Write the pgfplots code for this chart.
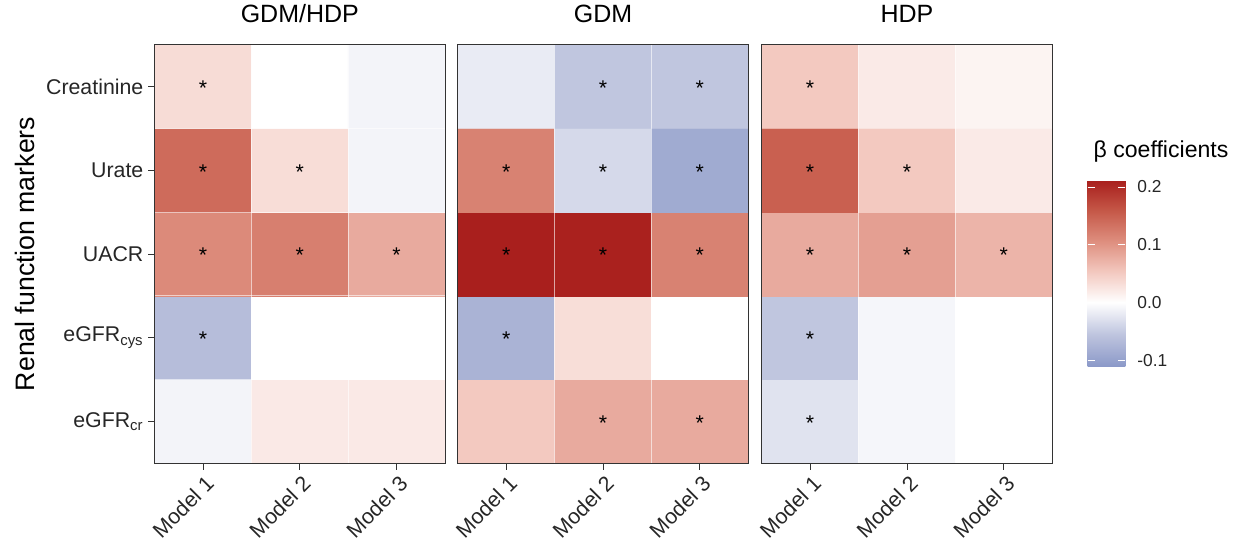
\documentclass[border=0pt]{standalone}
\usepackage{pgfplots}
\pgfplotsset{compat=1.18}
\usepackage{pgfplotstable}
\usepackage{fontspec}
\setmainfont{Liberation Sans}

\pgfplotsset{colormap={beta}{rgb255(0pt)=(138,152,200); rgb255(56pt)=(190,196,222); rgb255(112pt)=(255,255,255); rgb255(165pt)=(243,200,191); rgb255(218pt)=(222,142,126); rgb255(271pt)=(197,88,72); rgb255(324pt)=(168,30,28)}}

% y: 0=eGFRcr, 1=eGFRcys, 2=UACR, 3=Urate, 4=Creatinine ; x: 0..2 = Model 1..3
\pgfplotstableread{
x y v
0 0 -0.010
1 0 0.021
2 0 0.021
0 1 -0.065
1 1 0.000
2 1 0.000
0 2 0.110
1 2 0.121
2 2 0.080
0 3 0.140
1 3 0.033
2 3 -0.010
0 4 0.034
1 4 0.000
2 4 -0.010
}\gdmhdp
\pgfplotstableread{
x y v
0 0 0.052
1 0 0.080
2 0 0.080
0 1 -0.078
1 1 0.032
2 1 0.000
0 2 0.211
1 2 0.209
2 2 0.118
0 3 0.118
1 3 -0.036
2 3 -0.088
0 4 -0.019
1 4 -0.054
2 4 -0.054
}\gdm
\pgfplotstableread{
x y v
0 0 -0.027
1 0 -0.009
2 0 0.000
0 1 -0.054
1 1 -0.009
2 1 0.000
0 2 0.080
1 2 0.090
2 2 0.071
0 3 0.151
1 3 0.052
2 3 0.020
0 4 0.052
1 4 0.020
2 4 0.011
}\hdp
% significant cells
\pgfplotstableread{
x y
0 4
0 3
1 3
0 2
1 2
2 2
0 1
}\sigA
\pgfplotstableread{
x y
1 4
2 4
0 3
1 3
2 3
0 2
1 2
2 2
0 1
1 0
2 0
}\sigB
\pgfplotstableread{
x y
0 4
0 3
1 3
0 2
1 2
2 2
0 1
0 0
}\sigC

\pgfplotsset{
  panel/.style={
    scale only axis, width=217.8pt, height=313.95pt,
    anchor=south west,
    xmin=-0.5, xmax=2.5, ymin=-0.5, ymax=4.5,
    enlargelimits=false,
    xtick={0,1,2}, xticklabels={Model 1,Model 2,Model 3},
    xtick pos=left, ytick pos=left,
    tick align=outside,
    major tick length=4.9pt,
    tick style={black!80, line width=0.6pt},
    axis line style={black!80, line width=0.6pt},
    minor xtick={0.5,1.5}, minor ytick={0.5,1.5,2.5,3.5},
    minor tick length=0pt,
    xminorgrids, yminorgrids,
    minor grid style={white, line width=0.5pt, opacity=0.6},
    axis on top,
    colormap name=beta,
    point meta min=-0.112, point meta max=0.212,
    ticklabel style={font=\fontsize{16}{16}\selectfont, text=black!85},
    xticklabel style={rotate=45, anchor=north east, inner sep=1pt, xshift=-0.5pt, yshift=-2pt},
    title style={font=\fontsize{18.75}{18.75}\selectfont, at={(axis description cs:0.5,1)}, anchor=base, yshift=10.3pt},
  },
  stars/.style={only marks, mark=text, text mark={*}, text mark as node=true,
    text mark style={font=\fontsize{16}{16}\selectfont, yshift=-1.2pt}},
}

\begin{document}
\begin{tikzpicture}
\useasboundingbox (0,0) rectangle (924.75pt,407.25pt);

\begin{axis}[panel, at={(115.95pt,59.8pt)}, title={GDM/HDP},
  ytick={0,1,2,3,4},
  yticklabels={eGFR\textsubscript{cr},eGFR\textsubscript{cys},UACR,Urate,Creatinine},
  ylabel={Renal function markers},
  ylabel style={font=\fontsize{20}{20}\selectfont, at={(axis description cs:-0.445,0.5)}, anchor=center, rotate=0},
]
\addplot[matrix plot*, mesh/cols=3, point meta=explicit] table[x=x, y=y, meta=v] {\gdmhdp};
\addplot[stars] table[x=x, y=y] {\sigA};
\end{axis}

\begin{axis}[panel, at={(343.35pt,59.8pt)}, title={GDM}, ytick=\empty]
\addplot[matrix plot*, mesh/cols=3, point meta=explicit] table[x=x, y=y, meta=v] {\gdm};
\addplot[stars] table[x=x, y=y] {\sigB};
\end{axis}

\begin{axis}[panel, at={(571.3pt,59.8pt)}, title={HDP}, ytick=\empty,
  colorbar,
  colorbar/width=28.3pt,
  colorbar shift/.style={xshift=0pt},
  colorbar style={
    scale only axis,
    width=28.3pt, height=140.25pt,
    at={(parent axis.north east)}, anchor=north west,
    xshift=26.6pt, yshift=-101.5pt,
    axis line style={draw=none},
    ytick={-0.1,0,0.1,0.2},
    ytick pos=both, yticklabel pos=right,
    tick align=inside,
    major tick length=5.6pt,
    tick style={white, line width=0.6pt},
    scaled y ticks=false,
    axis on top,
    yticklabel style={font=\fontsize{13}{13}\selectfont, text=black!85, xshift=5.5pt,
      /pgf/number format/fixed, /pgf/number format/fixed zerofill,
      /pgf/number format/precision=1, /pgf/number format/assume math mode=true},
  },
]
\addplot[matrix plot*, mesh/cols=3, point meta=explicit] table[x=x, y=y, meta=v] {\hdp};
\addplot[stars] table[x=x, y=y] {\sigC};
\end{axis}

\node[anchor=base west, font=\fontsize{17.3}{17.3}\selectfont] at (816.75pt,288.75pt) {β coefficients};
\end{tikzpicture}
\end{document}
